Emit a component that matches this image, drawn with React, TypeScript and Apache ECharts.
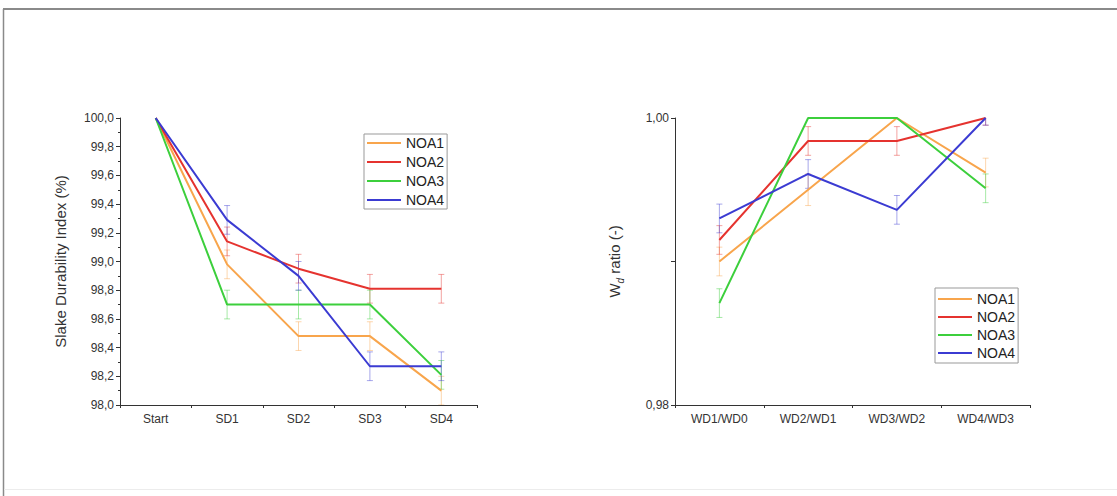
import React, { useEffect, useRef } from "react";
import * as echarts from "echarts";

const sdCategories = ["Start", "SD1", "SD2", "SD3", "SD4"];
const noa1Sdi = [100, 98.98, 98.48, 98.48, 98.1];
const noa2Sdi = [100, 99.14, 98.95, 98.81, 98.81];
const noa3Sdi = [100, 98.7, 98.7, 98.7, 98.21];
const noa4Sdi = [100, 99.29, 98.9, 98.27, 98.27];
const noa1SdiErr = [0, 0.1, 0.1, 0.1, 0.1];
const noa2SdiErr = [0, 0.1, 0.1, 0.1, 0.1];
const noa3SdiErr = [0, 0.1, 0.1, 0.1, 0.1];
const noa4SdiErr = [0, 0.1, 0.1, 0.1, 0.1];

const wdCategories = ["WD1/WD0", "WD2/WD1", "WD3/WD2", "WD4/WD3"];
const noa1Wd = [0.99, 0.995, 1.0, 0.9962];
const noa2Wd = [0.9915, 0.9984, 0.9984, 1.0];
const noa3Wd = [0.9871, 1.0, 1.0, 0.9951];
const noa4Wd = [0.993, 0.9961, 0.9936, 1.0];
const noa1WdErr = [0.001, 0.0011, 0, 0.001];
const noa2WdErr = [0.001, 0.001, 0.001, 0.0005];
const noa3WdErr = [0.001, 0, 0, 0.001];
const noa4WdErr = [0.001, 0.001, 0.001, 0.0005];

const seriesNames = ["NOA1", "NOA2", "NOA3", "NOA4"];
const colors = ["#F8A54C", "#E5332F", "#3CCF3C", "#3B3BD2"];

const FONT = "'Liberation Sans', Arial, sans-serif";

function errorSeries(values: number[], errs: number[], color: string, xAxisIndex: number, yAxisIndex: number) {
  const data = values
    .map((v, i) => [i, v - errs[i], v + errs[i], errs[i]])
    .filter((d) => d[3] > 0);
  return {
    type: "custom",
    xAxisIndex,
    yAxisIndex,
    silent: true,
    z: 1,
    clip: true,
    data,
    renderItem: (params: any, api: any) => {
      const i = api.value(0);
      const lo = api.coord([i, api.value(1)]);
      const hi = api.coord([i, api.value(2)]);
      const w = 3;
      const style = { stroke: color, lineWidth: 1, opacity: 0.45 };
      return {
        type: "group",
        children: [
          { type: "line", shape: { x1: lo[0], y1: lo[1], x2: hi[0], y2: hi[1] }, style },
          { type: "line", shape: { x1: lo[0] - w, y1: lo[1], x2: lo[0] + w, y2: lo[1] }, style },
          { type: "line", shape: { x1: hi[0] - w, y1: hi[1], x2: hi[0] + w, y2: hi[1] }, style },
        ],
      };
    },
  };
}

function lineSeries(name: string, values: number[], color: string, xAxisIndex: number, yAxisIndex: number) {
  return {
    type: "line",
    name,
    data: values,
    xAxisIndex,
    yAxisIndex,
    symbol: "none",
    z: 3,
    lineStyle: { color, width: 2 },
    itemStyle: { color },
  };
}

export default function App() {
  const ref = useRef<HTMLDivElement>(null);
  useEffect(() => {
    document.body.style.margin = "0";
    if (!ref.current) return;
    const chart = echarts.init(ref.current, undefined, { renderer: "svg" });
    const axisColor = "#333";
    const labelStyle = { color: "#333", fontSize: 12, fontFamily: FONT };

    const sdiVals = [noa1Sdi, noa2Sdi, noa3Sdi, noa4Sdi];
    const sdiErrs = [noa1SdiErr, noa2SdiErr, noa3SdiErr, noa4SdiErr];
    const wdVals = [noa1Wd, noa2Wd, noa3Wd, noa4Wd];
    const wdErrs = [noa1WdErr, noa2WdErr, noa3WdErr, noa4WdErr];

    const series: any[] = [];
    sdiVals.forEach((v, k) => series.push(errorSeries(v, sdiErrs[k], colors[k], 0, 0)));
    wdVals.forEach((v, k) => series.push(errorSeries(v, wdErrs[k], colors[k], 1, 1)));
    sdiVals.forEach((v, k) => series.push(lineSeries(seriesNames[k], v, colors[k], 0, 0)));
    wdVals.forEach((v, k) => series.push(lineSeries(seriesNames[k], v, colors[k], 1, 1)));

    const catAxis = (gridIndex: number, data: string[]) => ({
      type: "category",
      gridIndex,
      data,
      boundaryGap: true,
      axisLine: { lineStyle: { color: axisColor, width: 1 } },
      axisTick: { alignWithLabel: true, length: 5, lineStyle: { color: axisColor } },
      axisLabel: { ...labelStyle, margin: 8 },
      splitLine: { show: false },
    });
    const minorAxis = (gridIndex: number, n: number) => ({
      type: "value",
      gridIndex,
      min: 0,
      max: n,
      interval: 1,
      position: "bottom",
      axisLine: { show: false },
      axisTick: { show: true, length: 3, lineStyle: { color: axisColor } },
      axisLabel: { show: false },
      splitLine: { show: false },
    });

    const legendBase = {
      orient: "vertical",
      data: seriesNames,
      itemWidth: 34,
      itemHeight: 14,
      borderColor: "#999",
      borderWidth: 1,
      selectedMode: false,
      itemStyle: { opacity: 0 },
      lineStyle: { width: 2 },
      textStyle: { color: "#222", fontSize: 14, fontFamily: FONT },
    };

    chart.setOption({
      animation: false,
      backgroundColor: "#fff",
      textStyle: { fontFamily: FONT },
      grid: [
        { left: 120, top: 118, width: 357, height: 287, containLabel: false },
        { left: 675, top: 118, width: 355, height: 287, containLabel: false },
      ],
      legend: [
        { ...legendBase, left: 364, top: 134, padding: [2, 3, 2, 2], itemGap: 5 },
        { ...legendBase, left: 935, top: 288, padding: [4, 3, 3, 2], itemGap: 4 },
      ],
      xAxis: [catAxis(0, sdCategories), catAxis(1, wdCategories), minorAxis(0, 5), minorAxis(1, 4)],
      yAxis: [
        {
          type: "value",
          gridIndex: 0,
          min: 98,
          max: 100,
          interval: 0.2,
          name: "Slake Durability Index (%)",
          nameLocation: "middle",
          nameGap: 52,
          nameTextStyle: { color: "#333", fontSize: 15, fontFamily: FONT },
          axisLine: { show: true, lineStyle: { color: axisColor } },
          axisTick: { show: true, length: 4, lineStyle: { color: axisColor } },
          minorTick: { show: true, splitNumber: 2, length: 2, lineStyle: { color: axisColor } },
          axisLabel: { ...labelStyle, margin: 6, formatter: (v: number) => v.toFixed(1).replace(".", ",") },
          splitLine: { show: false },
        },
        {
          type: "value",
          gridIndex: 1,
          min: 0.98,
          max: 1.0,
          interval: 0.01,
          name: "{a|W}{b|d}{a| ratio (-)}",
          nameLocation: "middle",
          nameGap: 50,
          nameTextStyle: {
            color: "#333",
            fontFamily: FONT,
            rich: {
              a: { fontSize: 15, color: "#333", fontFamily: FONT, lineHeight: 22, verticalAlign: "middle" },
              b: { fontSize: 10, color: "#333", fontFamily: FONT, fontStyle: "italic", lineHeight: 22, verticalAlign: "bottom", padding: [8, 0, 0, 0] },
            },
          },
          axisLine: { show: true, lineStyle: { color: axisColor } },
          axisTick: { show: true, length: 4, lineStyle: { color: axisColor } },
          axisLabel: {
            ...labelStyle,
            margin: 6,
            formatter: (v: number) => (Math.abs(v - 0.99) < 1e-6 ? "" : v.toFixed(2).replace(".", ",")),
          },
          splitLine: { show: false },
        },
      ],
      graphic: [
        { type: "line", shape: { x1: 3, y1: 9, x2: 1117, y2: 9 }, style: { stroke: "#8a8a8a", lineWidth: 2 } },
        { type: "line", shape: { x1: 3.5, y1: 9, x2: 3.5, y2: 496 }, style: { stroke: "#8a8a8a", lineWidth: 1.5 } },
        { type: "line", shape: { x1: 4, y1: 489.5, x2: 1117, y2: 489.5 }, style: { stroke: "#ececec", lineWidth: 1 } },
      ],
      series,
    });
    return () => chart.dispose();
  }, []);
  return <div ref={ref} style={{ width: 1117, height: 496 }} />;
}
